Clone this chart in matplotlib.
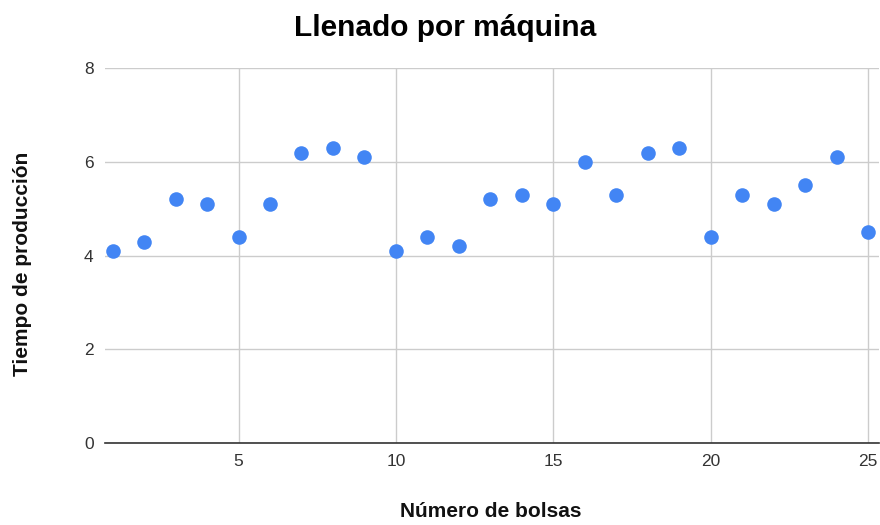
import matplotlib.pyplot as plt

# Tiempo de producción por número de bolsas
bolsas = list(range(1, 26))
tiempo = [4.1, 4.3, 5.2, 5.1, 4.4, 5.1, 6.2, 6.3, 6.1, 4.1,
          4.4, 4.2, 5.2, 5.3, 5.1, 6.0, 5.3, 6.2, 6.3, 4.4,
          5.3, 5.1, 5.5, 6.1, 4.5]
xticks = [5, 10, 15, 20, 25]
yticks = [0, 2, 4, 6, 8]

plt.rcParams['font.family'] = ['Liberation Sans', 'DejaVu Sans']

fig = plt.figure(figsize=(8.8, 5.25), dpi=100)
ax = fig.add_axes([0.119, 0.156, 0.880, 0.714])

ax.scatter(bolsas, tiempo, s=110, color='#4285F4', zorder=3, linewidths=0)

ax.set_xlim(0.75, 25.35)
ax.set_ylim(0, 8)
ax.set_xticks(xticks)
ax.set_yticks(yticks)
ax.grid(True, color='#cccccc', linewidth=1)
ax.set_axisbelow(True)

for side in ['top', 'right', 'left']:
    ax.spines[side].set_visible(False)
ax.spines['bottom'].set_color('#333333')
ax.spines['bottom'].set_linewidth(1.2)
ax.tick_params(length=0, labelsize=12.5, colors='#333333', pad=8)

fig.text(0.506, 0.946, 'Llenado por máquina', ha='center', va='center',
         fontsize=21.5, fontweight='bold', color='#000000')
fig.text(0.558, 0.025, 'Número de bolsas', ha='center', va='center',
         fontsize=15, fontweight='bold', color='#111111')
fig.text(0.026, 0.497, 'Tiempo de producción', ha='center', va='center',
         rotation=90, fontsize=15, fontweight='bold', color='#111111')

fig.savefig('out.png', dpi=100, facecolor='white')
